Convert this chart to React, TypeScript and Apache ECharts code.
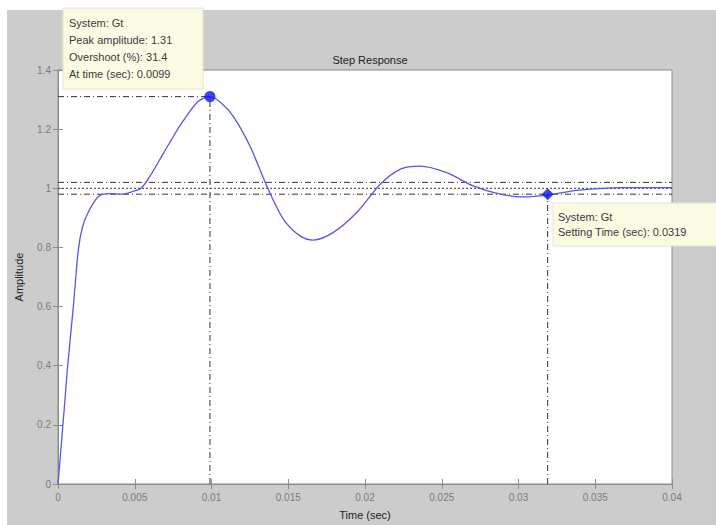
import React, { useEffect, useRef } from "react";
import * as echarts from "echarts";

const time = [0, 0.0004, 0.00063, 0.001, 0.00132, 0.0016, 0.00198, 0.00263, 0.0033, 0.00415, 0.0048, 0.00545, 0.0061, 0.00676, 0.0074, 0.00806, 0.00914, 0.0099, 0.0106, 0.01142, 0.01251, 0.0136, 0.01468, 0.01577, 0.01663, 0.01794, 0.01946, 0.02098, 0.02228, 0.02358, 0.02532, 0.02705, 0.0288, 0.0303, 0.0319, 0.0338, 0.0355, 0.0368, 0.04];
const amplitude = [0, 0.25, 0.4, 0.6, 0.79, 0.87, 0.92, 0.972, 0.982, 0.98, 0.988, 1.002, 1.05, 1.109, 1.165, 1.221, 1.294, 1.31, 1.29, 1.243, 1.142, 1.008, 0.896, 0.839, 0.825, 0.851, 0.918, 1.013, 1.064, 1.075, 1.053, 1.008, 0.98, 0.971, 0.977, 0.993, 1.0, 1.002, 1.002];

const peakTime = 0.0099;
const peakAmp = 1.31;
const settleTime = 0.0319;
const settleAmp = 0.98;
const finalValue = 1.0;
const upperBound = 1.02;
const lowerBound = 0.98;
const tEnd = 0.04;

const peakTip = ["System: Gt", "Peak amplitude: 1.31", "Overshoot (%): 31.4", "At time (sec): 0.0099"];
const settleTip = ["System: Gt", "Setting Time (sec): 0.0319"];

const FONT = "Liberation Sans";
const dashDot = [6, 3, 1, 3];

export default function App() {
  const ref = useRef<HTMLDivElement>(null);
  useEffect(() => {
    document.body.style.margin = "0";
    const chart = echarts.init(ref.current!, null, { renderer: "svg" });
    const curve = time.map((t, i) => [t, amplitude[i]]);
    const refLine = (data: number[][], type: any) => ({
      type: "line",
      data,
      symbol: "none",
      silent: true,
      lineStyle: { color: "#333", width: 1, type },
      z: 1,
    });
    const tipText = (lines: string[], x: number, y0: number, gap: number) =>
      lines.map((s, i) => ({
        type: "text",
        x,
        y: y0 + i * gap,
        z: 101,
        style: { text: s, fill: "#3a3a3a", font: `11px "${FONT}"`, textVerticalAlign: "middle", verticalAlign: "middle" },
      }));
    chart.setOption({
      animation: false,
      backgroundColor: "#ffffff",
      textStyle: { fontFamily: FONT },
      title: {
        text: "Step Response",
        left: 365,
        textAlign: "center",
        top: 49,
        textStyle: { fontSize: 11, fontWeight: "normal", color: "#222", fontFamily: FONT },
      },
      grid: {
        left: 58,
        right: 44,
        top: 70,
        bottom: 39,
        show: true,
        backgroundColor: "#ffffff",
        borderColor: "#8c8c8c",
        borderWidth: 1,
        containLabel: false,
      },
      graphic: [
        { type: "rect", shape: { x: 7, y: 10, width: 709, height: 515 }, style: { fill: "#cccccc" }, z: -10, silent: true },
        { type: "rect", shape: { x: 63, y: 8, width: 140, height: 81 }, style: { fill: "#fbfbe4", stroke: "#e4e4cc", lineWidth: 1 }, z: 100 },
        ...tipText(peakTip, 69, 23, 17),
        { type: "rect", shape: { x: 553, y: 203, width: 170, height: 43 }, style: { fill: "#fbfbe4", stroke: "#e4e4cc", lineWidth: 1 }, z: 100 },
        ...tipText(settleTip, 558, 217, 15),
      ],
      xAxis: [
        {
          type: "value",
          min: 0,
          max: 0.04,
          interval: 0.005,
          position: "bottom",
          name: "Time (sec)",
          nameLocation: "middle",
          nameGap: 25,
          nameTextStyle: { fontSize: 11, color: "#222", fontFamily: FONT },
          axisLine: { show: true, lineStyle: { color: "#8c8c8c" } },
          axisTick: { show: true, inside: true, length: 5, lineStyle: { color: "#8c8c8c" } },
          axisLabel: { color: "#7a7a7a", fontSize: 10, margin: 8, fontFamily: FONT },
          splitLine: { show: false },
        },
        {
          type: "value",
          min: 0,
          max: 0.04,
          interval: 0.005,
          position: "top",
          axisLine: { show: false },
          axisTick: { show: true, inside: true, length: 5, lineStyle: { color: "#8c8c8c" } },
          axisLabel: { show: false },
          splitLine: { show: false },
        },
      ],
      yAxis: [
        {
          type: "value",
          min: 0,
          max: 1.4,
          interval: 0.2,
          position: "left",
          name: "Amplitude",
          nameLocation: "middle",
          nameGap: 34,
          nameRotate: 90,
          nameTextStyle: { fontSize: 11, color: "#222", fontFamily: FONT },
          axisLine: { show: true, lineStyle: { color: "#8c8c8c" } },
          axisTick: { show: true, inside: true, length: 5, lineStyle: { color: "#8c8c8c" } },
          axisLabel: { color: "#7a7a7a", fontSize: 10, margin: 7, fontFamily: FONT },
          splitLine: { show: false },
        },
        {
          type: "value",
          min: 0,
          max: 1.4,
          interval: 0.2,
          position: "right",
          axisLine: { show: false },
          axisTick: { show: true, inside: true, length: 5, lineStyle: { color: "#8c8c8c" } },
          axisLabel: { show: false },
          splitLine: { show: false },
        },
      ],
      series: [
        refLine([[0, peakAmp], [peakTime, peakAmp]], dashDot),
        refLine([[peakTime, 0], [peakTime, peakAmp]], dashDot),
        refLine([[0, upperBound], [tEnd, upperBound]], dashDot),
        refLine([[0, lowerBound], [tEnd, lowerBound]], dashDot),
        refLine([[0, finalValue], [tEnd, finalValue]], [2, 2]),
        refLine([[settleTime, 0], [settleTime, settleAmp]], dashDot),
        {
          type: "line",
          data: curve,
          smooth: 0.3,
          symbol: "none",
          lineStyle: { color: "#5656ee", width: 1.3 },
          z: 3,
        },
        {
          type: "scatter",
          data: [[peakTime, peakAmp]],
          symbol: "circle",
          symbolSize: 11,
          itemStyle: { color: "#0a14f0" },
          z: 5,
        },
        {
          type: "scatter",
          data: [[settleTime, settleAmp]],
          symbol: "diamond",
          symbolSize: 12,
          itemStyle: { color: "#0a14f0" },
          z: 5,
        },
      ],
    });
    return () => chart.dispose();
  }, []);
  return <div ref={ref} style={{ width: 716, height: 525 }} />;
}
